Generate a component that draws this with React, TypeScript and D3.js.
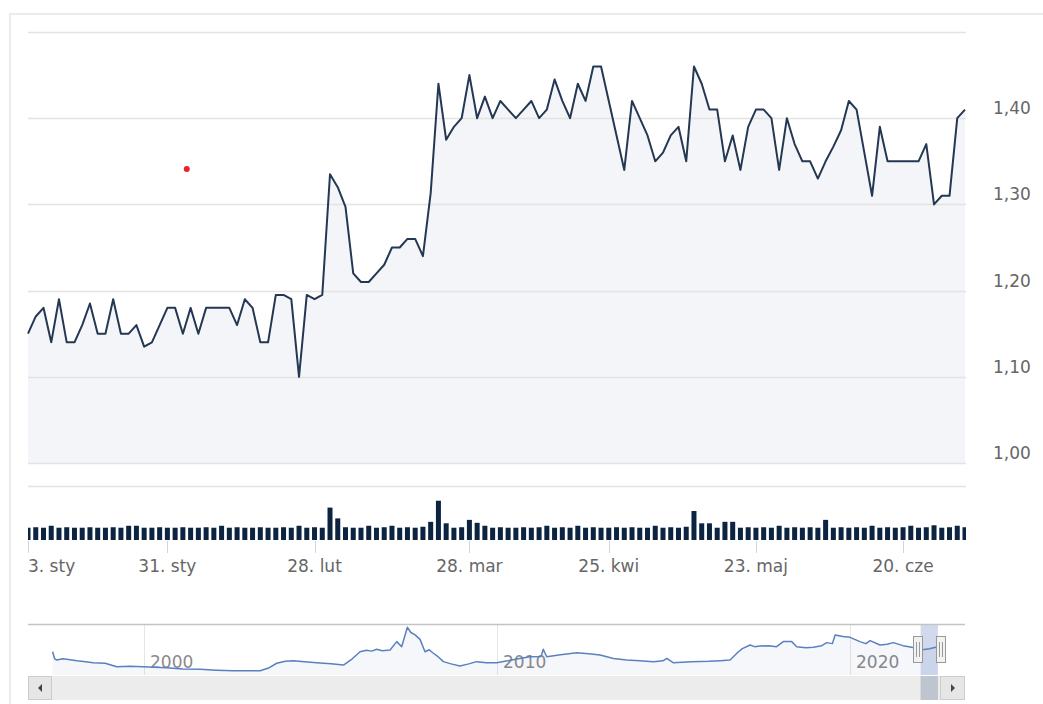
import React from 'react';
import * as d3 from 'd3';

// Daily closing prices (PLN), 3 Jan 2022 – end of June 2022, ordinal positions
const prices = [
  1.15, 1.17, 1.18, 1.14, 1.19, 1.14, 1.14, 1.16, 1.185, 1.15,
  1.15, 1.19, 1.15, 1.15, 1.16, 1.135, 1.14, 1.16, 1.18, 1.18,
  1.15, 1.18, 1.15, 1.18, 1.18, 1.18, 1.18, 1.16, 1.19, 1.18,
  1.14, 1.14, 1.195, 1.195, 1.19, 1.10, 1.195, 1.19, 1.195, 1.335,
  1.32, 1.297, 1.22, 1.21, 1.21, 1.22, 1.23, 1.25, 1.25, 1.26,
  1.26, 1.24, 1.313, 1.44, 1.375, 1.39, 1.40, 1.45, 1.40, 1.425,
  1.40, 1.42, 1.41, 1.40, 1.41, 1.42, 1.40, 1.41, 1.445, 1.42,
  1.40, 1.44, 1.42, 1.46, 1.46, 1.42, 1.38, 1.34, 1.42, 1.40,
  1.38, 1.35, 1.36, 1.38, 1.39, 1.35, 1.46, 1.44, 1.41, 1.41,
  1.35, 1.38, 1.34, 1.39, 1.41, 1.41, 1.40, 1.34, 1.40, 1.37,
  1.35, 1.35, 1.33, 1.35, 1.367, 1.386, 1.42, 1.41, 1.36, 1.31,
  1.39, 1.35, 1.35, 1.35, 1.35, 1.35, 1.37, 1.30, 1.31, 1.31,
  1.40, 1.41,
];

// Daily volume (thousands)
const volumes = [
  25, 26, 25, 29, 25, 26, 25, 25, 26, 25,
  25, 26, 25, 29, 29, 25, 25, 26, 25, 25,
  26, 25, 25, 26, 25, 29, 25, 26, 25, 25,
  26, 25, 25, 26, 25, 29, 25, 26, 25, 66,
  44, 26, 25, 25, 29, 25, 26, 29, 25, 26,
  25, 27, 37, 80, 34, 25, 26, 41, 35, 29,
  25, 26, 25, 25, 26, 25, 26, 29, 25, 26,
  25, 29, 25, 26, 25, 25, 26, 25, 26, 25,
  25, 29, 25, 26, 25, 27, 59, 34, 34, 25,
  37, 37, 25, 26, 25, 26, 25, 29, 25, 26,
  25, 26, 25, 41, 25, 26, 25, 26, 25, 29,
  25, 26, 25, 26, 29, 25, 26, 30, 25, 26,
  29, 26,
];

const tickIndices = [0, 18, 37, 57, 75, 94, 113];
const tickLabels = ['3. sty', '31. sty', '28. lut', '28. mar', '25. kwi', '23. maj', '20. cze'];

const yGridValues = [1.0, 1.1, 1.2, 1.3, 1.4, 1.5];
const yLabelValues = [1.0, 1.1, 1.2, 1.3, 1.4];

// Single flagged point (red marker)
const eventIndex = 20.5;
const eventValue = 1.341;

// Navigator (full history)
const navYears = [
  1997.41, 1997.47, 1997.53, 1997.70, 1997.81, 1998.10, 1998.35, 1998.56, 1998.90, 1999.23,
  1999.60, 1999.98, 2000.30, 2000.64, 2001.10, 2001.59, 2002.05, 2002.53, 2003.29, 2003.55,
  2003.76, 2004.00, 2004.23, 2004.55, 2004.89, 2005.30, 2005.65, 2005.90, 2006.12, 2006.30,
  2006.45, 2006.59, 2006.75, 2006.97, 2007.16, 2007.30, 2007.46, 2007.56, 2007.68, 2007.82,
  2007.96, 2008.08, 2008.18, 2008.30, 2008.48, 2008.70, 2008.95, 2009.20, 2009.42, 2009.70,
  2009.99, 2010.30, 2010.60, 2010.93, 2011.25, 2011.31, 2011.41, 2011.80, 2012.26, 2012.60,
  2012.92, 2013.30, 2013.67, 2014.05, 2014.43, 2014.70, 2014.81, 2014.99, 2015.50, 2016.00,
  2016.32, 2016.60, 2016.84, 2016.95, 2017.17, 2017.30, 2017.45, 2017.70, 2017.92, 2018.11,
  2018.35, 2018.49, 2018.75, 2018.96, 2019.20, 2019.34, 2019.50, 2019.58, 2019.80, 2020.00,
  2020.15, 2020.28, 2020.45, 2020.57, 2020.85, 2021.05, 2021.23, 2021.50, 2021.75, 2022.04,
  2022.25, 2022.49,
];
const navValues = [
  1.15, 0.80, 0.74, 0.80, 0.78, 0.70, 0.66, 0.61, 0.58, 0.41,
  0.43, 0.41, 0.38, 0.36, 0.30, 0.28, 0.24, 0.21, 0.21, 0.36,
  0.58, 0.68, 0.71, 0.66, 0.61, 0.55, 0.49, 0.80, 1.15, 1.22,
  1.18, 1.27, 1.20, 1.24, 1.65, 1.40, 2.36, 2.10, 1.98, 1.76,
  1.15, 1.25, 1.10, 0.95, 0.66, 0.55, 0.44, 0.55, 0.66, 0.60,
  0.61, 0.70, 0.80, 0.90, 0.92, 1.27, 0.90, 1.00, 1.10, 1.05,
  0.99, 0.82, 0.74, 0.70, 0.66, 0.70, 0.82, 0.61, 0.66, 0.68,
  0.71, 0.74, 1.15, 1.30, 1.48, 1.40, 1.43, 1.45, 1.40, 1.65,
  1.65, 1.40, 1.35, 1.37, 1.45, 1.60, 1.55, 1.98, 1.90, 1.86,
  1.75, 1.65, 1.55, 1.70, 1.48, 1.52, 1.60, 1.45, 1.37, 1.25,
  1.30, 1.40,
];
const navYearTicks = [2000, 2010, 2020];
const selectionStart = 2022.0;
const selectionEnd = 2022.49;

const FONT = '"DejaVu Sans", Verdana, sans-serif';

export default function App() {
  const W = 1043;
  const H = 704;
  const plotL = 28;
  const plotR = 966;

  const x = d3.scaleLinear().domain([0, prices.length - 1]).range([28, 965]);
  const y = d3.scaleLinear().domain([1.0, 1.5]).range([463, 32]);
  const vy = d3.scaleLinear().domain([0, 110]).range([540, 486]);
  const nx = d3.scaleLinear().domain([2000, 2020]).range([144, 850]);
  const ny = d3.scaleLinear().domain([0, 2.52]).range([675, 624]);

  const line = d3.line<number>().x((_, i) => x(i)).y((d) => y(d));
  const area = d3.area<number>().x((_, i) => x(i)).y0(y(1.0)).y1((d) => y(d));

  const navLine = d3.line<number>().x((_, i) => nx(navYears[i])).y((d) => ny(d));
  const navArea = d3.area<number>().x((_, i) => nx(navYears[i])).y0(675).y1((d) => ny(d));

  const fmt = (v: number) => d3.format('.2f')(v).replace('.', ',');

  const selL = nx(selectionStart);
  const selR = nx(selectionEnd);

  return (
    <svg
      width={W}
      height={H}
      style={{ position: 'absolute', left: 0, top: 0, display: 'block', background: '#fff' }}
      fontFamily={FONT}
    >
      <defs>
        <clipPath id="volClip">
          <rect x={plotL} y={480} width={plotR - plotL} height={70} />
        </clipPath>
      </defs>

      {/* outer frame */}
      <rect x={10} y={14} width={1100} height={800} fill="none" stroke="#ebebeb" strokeWidth={2} />

      {/* price area */}
      <path d={area(prices) || ''} fill="#f4f5f8" />

      {/* grid lines */}
      {yGridValues.map((v) => (
        <line key={v} x1={plotL} x2={plotR} y1={Math.round(y(v)) + 0.5} y2={Math.round(y(v)) + 0.5} stroke="#e3e3e3" strokeWidth={1.5} />
      ))}

      {/* y labels */}
      {yLabelValues.map((v) => (
        <text key={v} x={993} y={y(v) - 4} fontSize={17} fill="#666">
          {fmt(v)}
        </text>
      ))}

      {/* price line */}
      <path d={line(prices) || ''} fill="none" stroke="#243753" strokeWidth={2} strokeLinejoin="round" />

      {/* event marker */}
      <circle cx={x(eventIndex)} cy={y(eventValue)} r={3} fill="#e8232b" />

      {/* volume panel top line */}
      <line x1={plotL} x2={plotR} y1={486.5} y2={486.5} stroke="#e3e3e3" strokeWidth={1.5} />

      {/* volume bars */}
      <g clipPath="url(#volClip)">
        {volumes.map((v, i) => (
          <rect key={i} x={x(i) - 2.5} y={vy(v)} width={5} height={vy(0) - vy(v)} fill="#0c2342" />
        ))}
      </g>

      {/* x ticks and labels */}
      {tickIndices.map((ti, k) => (
        <g key={ti}>
          <line x1={Math.round(x(ti)) + 0.5} x2={Math.round(x(ti)) + 0.5} y1={541} y2={553} stroke="#ccd6eb" strokeWidth={1} />
          <text x={x(ti)} y={572} fontSize={17} fill="#666" textAnchor={k === 0 ? 'start' : 'middle'}>
            {tickLabels[k]}
          </text>
        </g>
      ))}

      {/* navigator */}
      {navYearTicks.map((yr) => (
        <g key={yr}>
          <line x1={Math.round(nx(yr)) + 0.5} x2={Math.round(nx(yr)) + 0.5} y1={624} y2={675} stroke="#e6e6e6" strokeWidth={1} />
          <text x={nx(yr) + 6} y={668} fontSize={17} fill="#8a8a8a">
            {yr}
          </text>
        </g>
      ))}
      <path d={navArea(navValues) || ''} fill="rgba(51,92,173,0.05)" />
      <path d={navLine(navValues) || ''} fill="none" stroke="#5a80bf" strokeWidth={1.5} strokeLinejoin="round" />

      {/* selection mask */}
      <rect x={selL} y={624} width={selR - selL} height={51} fill="rgba(102,133,194,0.3)" />
      <line x1={plotL} x2={965} y1={624.5} y2={624.5} stroke="#c4c4c4" strokeWidth={1.5} />

      {/* scrollbar */}
      <rect x={plotL} y={676} width={965 - plotL} height={24} fill="#ececec" />
      <rect x={selL} y={676} width={selR - selL} height={24} fill="#bec5ce" />
      <rect x={28.5} y={676.5} width={23} height={23} fill="#e6e6e6" stroke="#cccccc" />
      <path d="M 42 684 L 38 688 L 42 692 Z" fill="#444" />
      <rect x={940.5} y={676.5} width={24} height={23} fill="#e6e6e6" stroke="#cccccc" />
      <path d="M 951 684 L 955 688 L 951 692 Z" fill="#444" />

      {/* handles */}
      {[selL - 8, selR - 2].map((hx, k) => (
        <g key={k}>
          <rect x={Math.round(hx) + 0.5} y={636.5} width={9} height={26} fill="#f2f2f2" stroke="#999" strokeWidth={1} />
          <line x1={Math.round(hx) + 3.5} x2={Math.round(hx) + 3.5} y1={642} y2={657} stroke="#999" />
          <line x1={Math.round(hx) + 6.5} x2={Math.round(hx) + 6.5} y1={642} y2={657} stroke="#999" />
        </g>
      ))}
    </svg>
  );
}
